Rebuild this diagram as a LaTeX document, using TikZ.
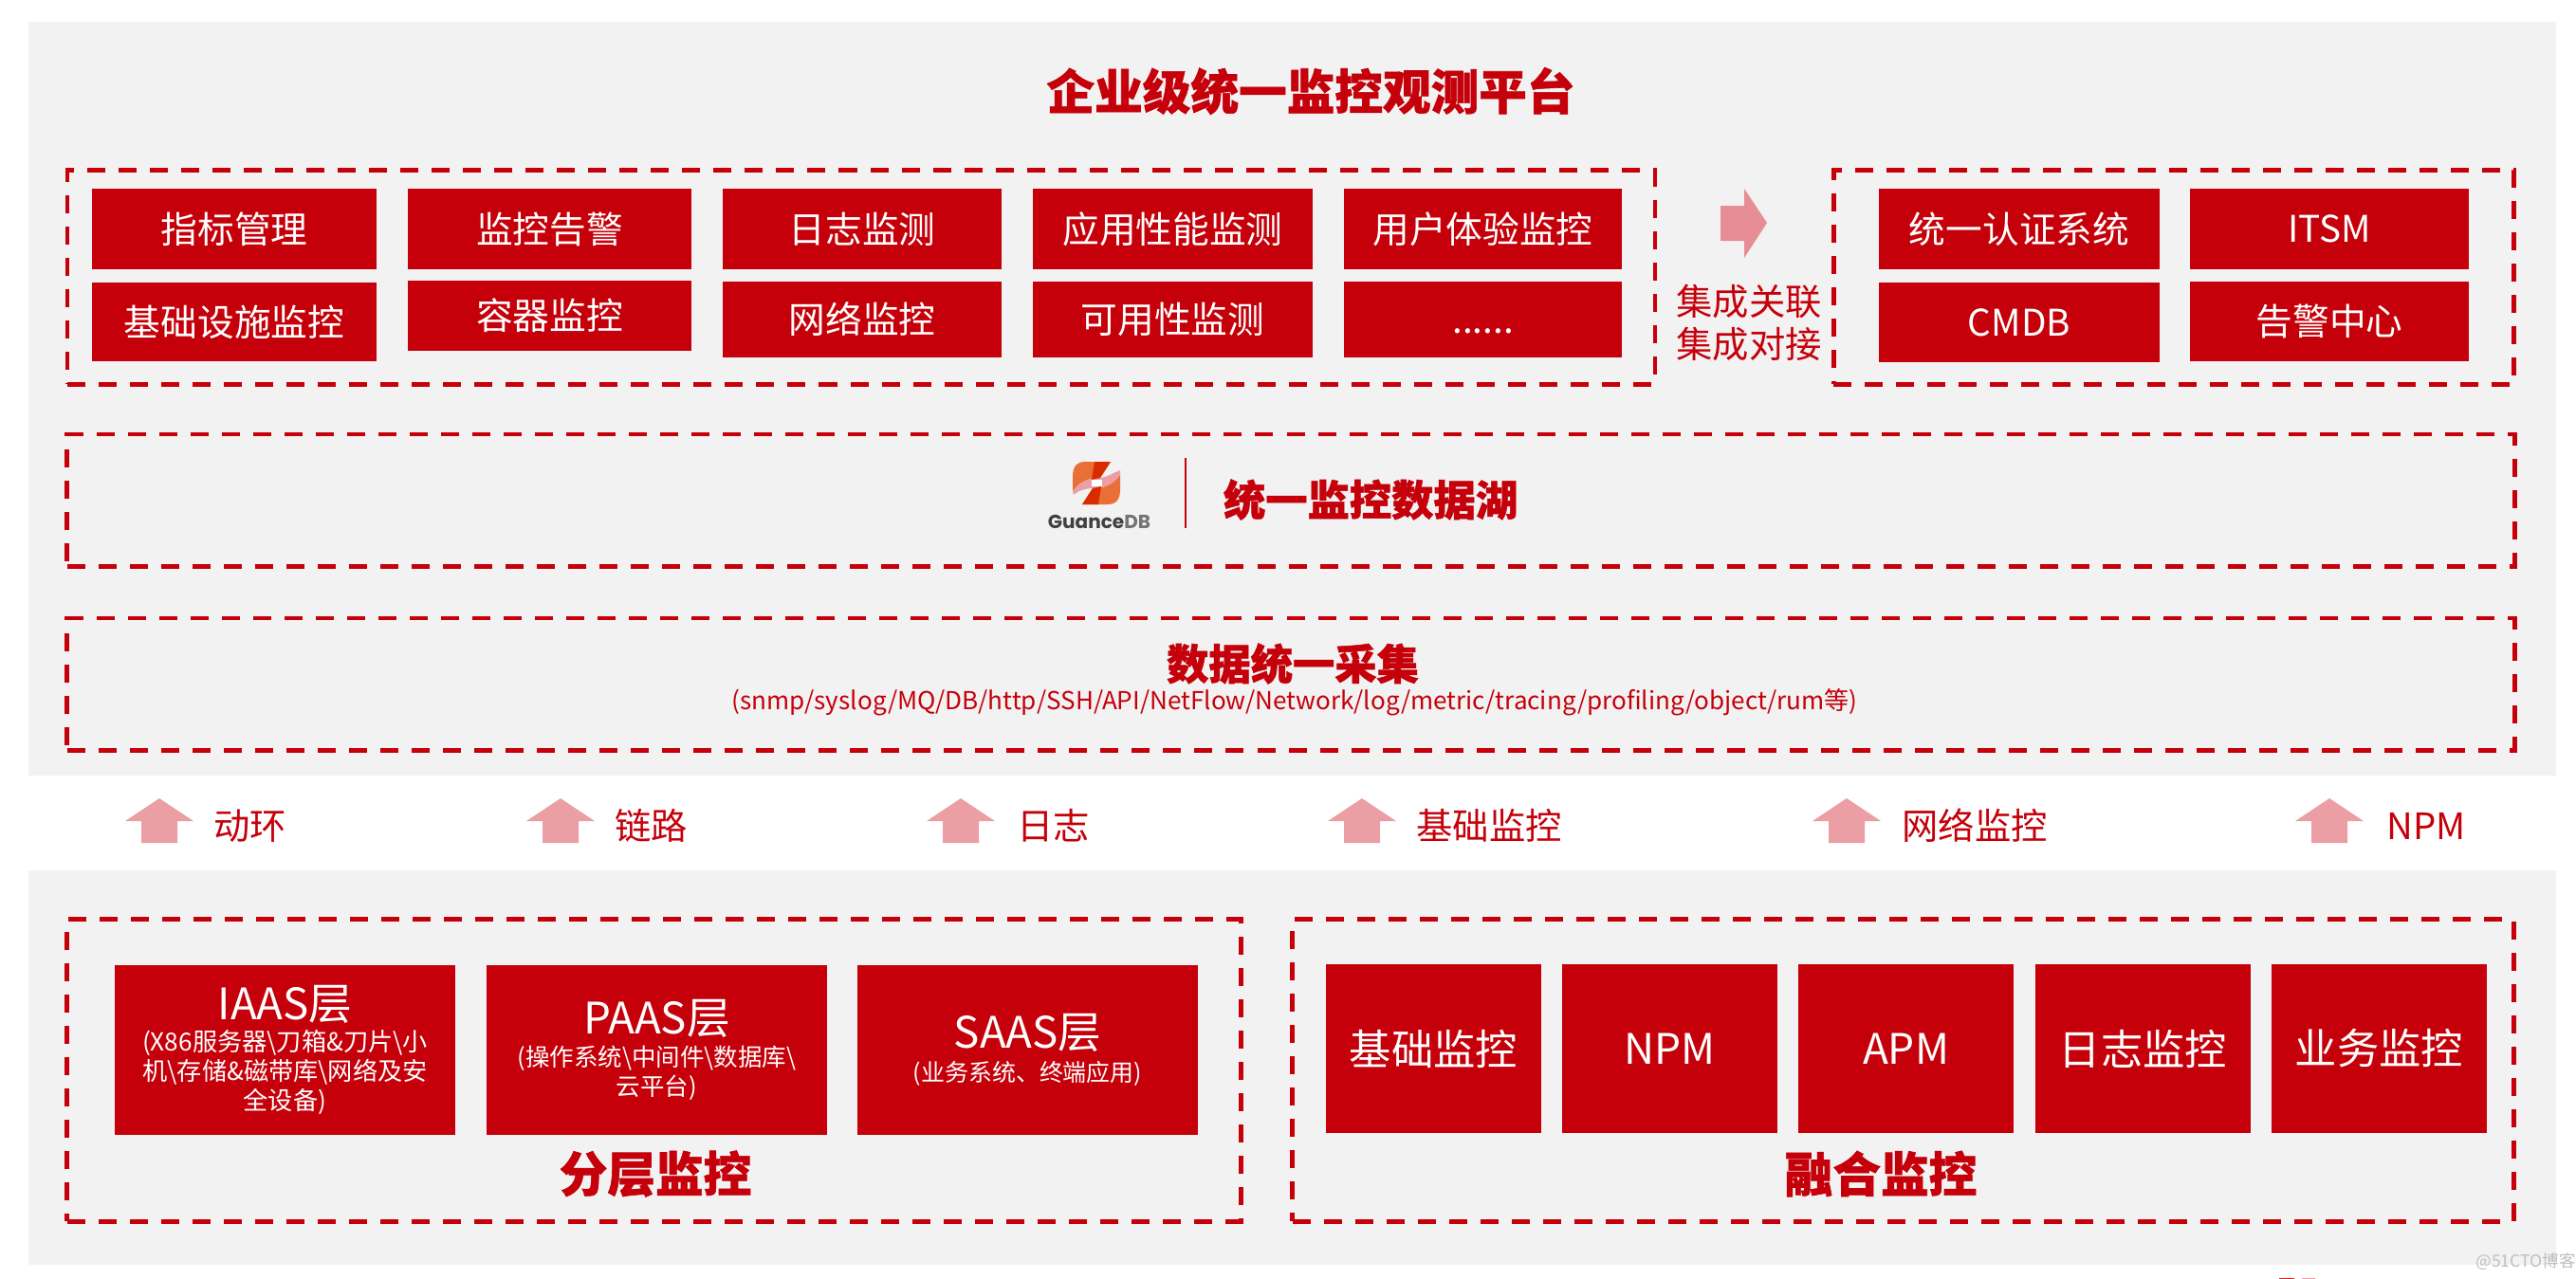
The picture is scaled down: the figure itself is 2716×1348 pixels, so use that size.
\documentclass[tikz,border=0pt]{standalone}
\usepackage{fontspec}
\setmainfont{Noto Sans CJK SC}[BoldFeatures={FakeBold=1.2}]
\newfontfamily\logofont{Poppins}
\usepackage{xcolor}
\definecolor{guanred}{HTML}{C5000A}
\definecolor{panelgray}{HTML}{F2F2F2}
\definecolor{softred}{HTML}{EB9EA3}
\definecolor{logoorange}{HTML}{E86F35}
\tikzset{
  panel/.style={fill=panelgray, inner sep=0pt, outer sep=0pt},
  dashbox/.style={draw=guanred, line width=1.4pt, dash pattern=on .19cm off .14cm, inner sep=0pt, outer sep=0pt},
  redbox/.style={fill=guanred, text=white, inner sep=0pt, outer sep=0pt, align=center, font=\fontsize{11}{13}\selectfont},
  bigbox/.style={redbox, font=\fontsize{12.6}{15}\selectfont, minimum width=2.27cm, minimum height=1.78cm},
  layerbox/.style={redbox, minimum width=3.59cm, minimum height=1.79cm},
  heading/.style={text=guanred, font=\fontsize{12.6}{15}\selectfont\bfseries},
  sidelabel/.style={text=guanred, font=\fontsize{10.9}{13}\selectfont},
  feedlabel/.style={text=guanred, anchor=west, font=\fontsize{10.9}{13}\selectfont},
}
\newcommand{\layertitle}[1]{{\fontsize{13}{15}\selectfont #1}}
\begin{document}
\begin{tikzpicture}[x=0.01cm, y=-0.01cm]
  \useasboundingbox (0,0) rectangle (2716,1348);
  \node[panel, minimum width=26.63cm, minimum height=7.95cm] (upper) at (1362.5,420.5) {};
  \node[panel, minimum width=26.63cm, minimum height=4.16cm] (lower) at (1362.5,1126) {};

  \node[heading, font=\fontsize{14.4}{18}\selectfont\bfseries] (title) at (1382,96) {企业级统一监控观测平台};

  \node[dashbox, minimum width=16.73cm, minimum height=2.25cm] (tools) at (908,292.5) {};
  \node[dashbox, minimum width=7.17cm, minimum height=2.25cm] (itsm) at (2292,292.5) {};
  \node[dashbox, minimum width=25.79cm, minimum height=1.39cm] (lake) at (1361,527.5) {};
  \node[dashbox, minimum width=25.79cm, minimum height=1.39cm] (collect) at (1361,721.5) {};
  \node[dashbox, minimum width=12.37cm, minimum height=3.18cm] (layered) at (689.5,1129) {};
  \node[dashbox, minimum width=12.87cm, minimum height=3.18cm] (fusion) at (2006.5,1129) {};

  \node[redbox, minimum width=3cm, minimum height=.85cm] (zbgl) at (247,241.5) {指标管理};
  \node[redbox, minimum width=3cm, minimum height=.83cm] (jcss) at (247,339.5) {基础设施监控};
  \node[redbox, minimum width=2.99cm, minimum height=.85cm] (jkgj) at (579.5,241.5) {监控告警};
  \node[redbox, minimum width=2.99cm, minimum height=.74cm] (rqjk) at (579.5,333) {容器监控};
  \node[redbox, minimum width=2.94cm, minimum height=.85cm] (rzjc) at (909,241.5) {日志监测};
  \node[redbox, minimum width=2.94cm, minimum height=.8cm] (wljk) at (909,337) {网络监控};
  \node[redbox, minimum width=2.95cm, minimum height=.85cm] (yyxn) at (1236.5,241.5) {应用性能监测};
  \node[redbox, minimum width=2.95cm, minimum height=.8cm] (kyx) at (1236.5,337) {可用性监测};
  \node[redbox, minimum width=2.93cm, minimum height=.85cm] (yhty) at (1563.5,241.5) {用户体验监控};
  \node[redbox, minimum width=2.93cm, minimum height=.8cm] (more) at (1563.5,337) {\raisebox{-8.2pt}{......}};

  \fill[softred!90!guanred] (1814,217) -- (1839,217) -- (1839,199) -- (1863,235) -- (1839,272) -- (1839,254) -- (1814,254) -- cycle;
  \node[sidelabel] (glian) at (1844,318) {集成关联};
  \node[sidelabel] (djie) at (1844,363) {集成对接};

  \node[redbox, minimum width=2.95cm, minimum height=.85cm] (auth) at (2129,241.5) {统一认证系统};
  \node[redbox, minimum width=2.94cm, minimum height=.85cm] (itsmbox) at (2456,241.5) {ITSM};
  \node[redbox, minimum width=2.95cm, minimum height=.84cm] (cmdb) at (2129,340) {CMDB};
  \node[redbox, minimum width=2.94cm, minimum height=.84cm] (alarm) at (2456,339) {告警中心};

  % logo of the data lake
  \fill[logoorange] (1131,518) -- (1131,503) .. controls (1131,492) and (1135,487) .. (1145,487) -- (1171,487) -- (1160,504) .. controls (1148,504) and (1138,508) .. cycle;
  \fill[logoorange] (1181,501) -- (1181,516) .. controls (1181,527) and (1177,532) .. (1167,532) -- (1141,532) -- (1152,515) .. controls (1164,515) and (1174,511) .. cycle;
  \fill[softred] (1131,518) .. controls (1138,508) and (1148,504) .. (1160,504) .. controls (1168,503) and (1175,498) .. (1181,496) -- (1181,501) .. controls (1174,511) and (1164,515) .. (1152,515) .. controls (1144,515) and (1136,518) .. (1132,522) -- cycle;
  \fill[red!60!orange!85!black] (1154,487) -- (1171,487) -- (1160,504) -- (1151,506) -- cycle;
  \fill[red!60!orange!85!black] (1158,532) -- (1141,532) -- (1152,515) -- (1161,513) -- cycle;
  \fill[white] (1151,506) rectangle (1162,513);
  \node[text=black!75, font=\fontsize{5.7}{8}\logofont\bfseries] (guance) at (1159,550) {Guance\textcolor{black!55}{DB}};
  \draw[guanred, line width=.6pt] (1250,483) -- (1250,557);
  \node[heading] (lakelabel) at (1445,527) {统一监控数据湖};

  \node[heading] (collectlabel) at (1363,700) {数据统一采集};
  \node[text=guanred, font=\fontsize{7.42}{9}\selectfont] (protocols) at (1365,741) {(snmp/syslog/MQ/DB/http/SSH/API/NetFlow/Network/log/metric/tracing/profiling/object/rum等)};

  \foreach \xpos/\xlab/\name/\lab in {168/213/dh/动环, 591/636/ll/链路, 1013/1060/rz/日志, 1436/1481/jc/基础监控, 1947/1993/wl/网络监控, 2456/2504/npmfeed/NPM}
  {
    \fill[softred] (\xpos,842) -- ++(36,24) -- ++(-17,0) -- ++(0,23) -- ++(-38,0) -- ++(0,-23) -- ++(-17,0) -- cycle;
    \node[feedlabel] (\name) at (\xlab,871) {\lab};
  }

  \node[layerbox, font=\fontsize{7.45}{8.8}\selectfont] (iaas) at (300.5,1107.5) {\layertitle{IAAS层}\\[.6pt](X86服务器\textbackslash 刀箱\&刀片\textbackslash 小\\机\textbackslash 存储\&磁带库\textbackslash 网络及安\\全设备)};
  \node[layerbox, font=\fontsize{7.25}{8.8}\selectfont] (paas) at (692.5,1107.5) {\layertitle{PAAS层}\\[1pt](操作系统\textbackslash 中间件\textbackslash 数据库\textbackslash\\云平台)};
  \node[layerbox, font=\fontsize{7.1}{8.8}\selectfont] (saas) at (1083.5,1107.5) {\layertitle{SAAS层}\\[1pt](业务系统、终端应用)};
  \node[heading, font=\fontsize{14.4}{17}\selectfont\bfseries] (layeredlabel) at (691,1238) {分层监控};

  \node[bigbox] (jcjk) at (1511.5,1106) {基础监控};
  \node[bigbox] (npm) at (1760.5,1106) {NPM};
  \node[bigbox] (apm) at (2009.5,1106) {APM};
  \node[bigbox] (rzjk) at (2259.5,1106) {日志监控};
  \node[bigbox] (ywjk) at (2508.5,1106) {业务监控};
  \node[heading, font=\fontsize{14.4}{17}\selectfont\bfseries] (fusionlabel) at (1983,1238) {融合监控};

  \fill[guanred!85] (2419,1348) arc (0:180:8);
  \fill[softred] (2441,1348) arc (0:180:7);
  \node[text=black!25, font=\fontsize{5}{6}\selectfont] (mark) at (2663,1331) {@51CTO博客};
\end{tikzpicture}
\end{document}
